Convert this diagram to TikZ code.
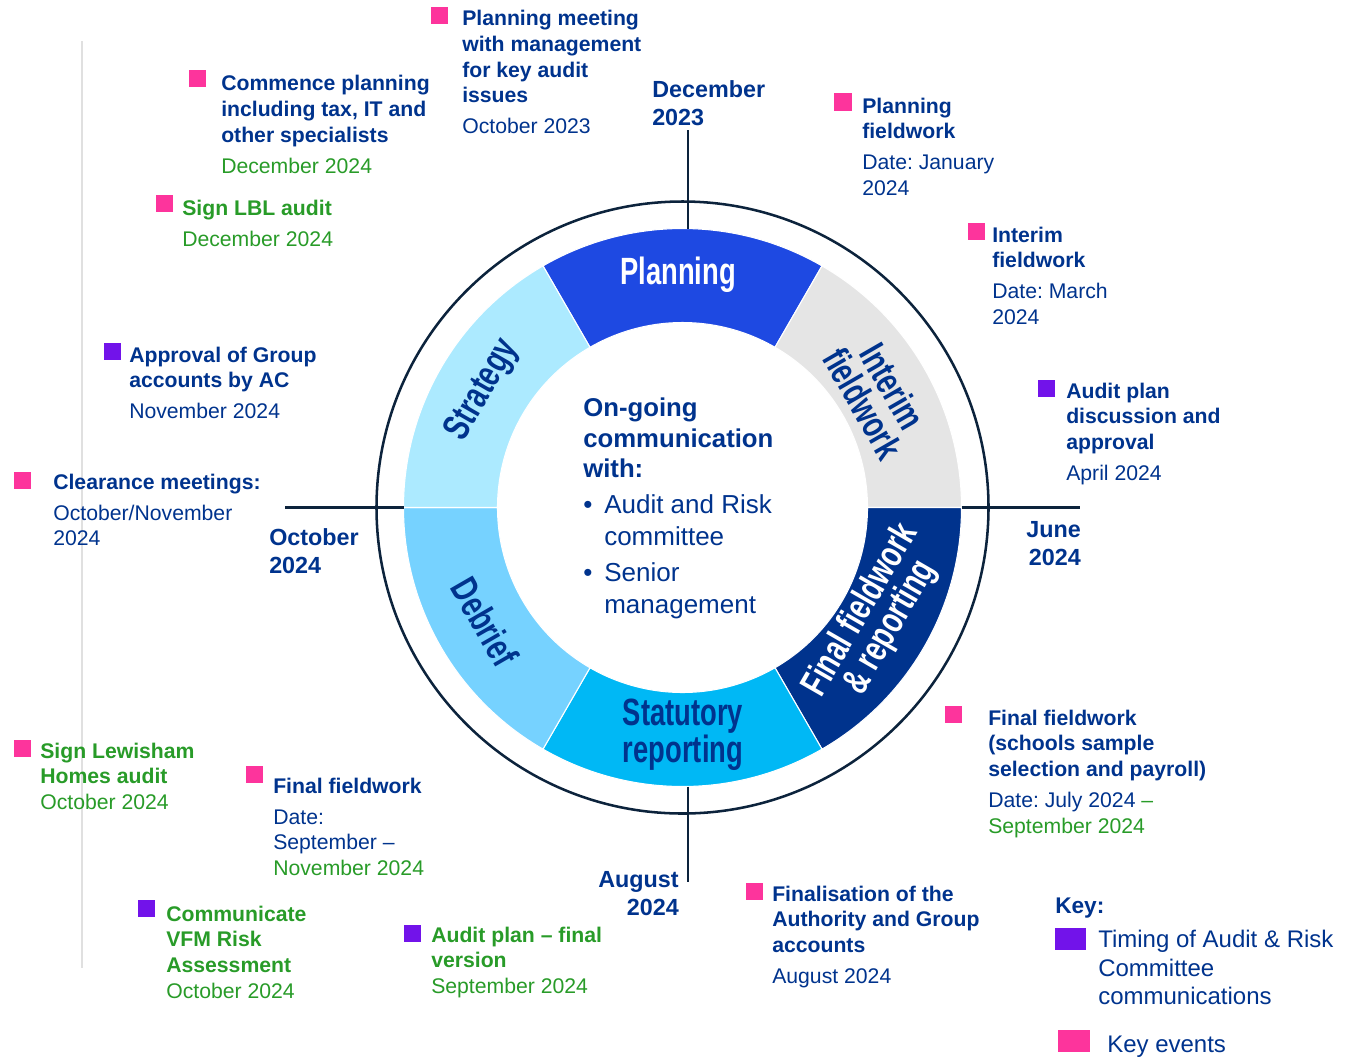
\documentclass[tikz,border=0pt]{standalone}
\usepackage{fontspec}
\setmainfont{Liberation Sans}
\newfontfamily\condf[FakeStretch=0.72]{Liberation Sans}
\frenchspacing
\definecolor{navy}{HTML}{00338D}
\definecolor{kgreen}{RGB}{40,155,40}
\definecolor{kpink}{HTML}{FD349C}
\definecolor{kpurple}{HTML}{7213EA}
\definecolor{ringline}{HTML}{0C233C}
\definecolor{cPlan}{HTML}{1E49E2}
\definecolor{cInt}{HTML}{E5E5E5}
\definecolor{cFin}{HTML}{00338D}
\definecolor{cStat}{HTML}{00B8F5}
\definecolor{cDeb}{HTML}{76D2FF}
\definecolor{cStr}{HTML}{ACEAFF}
\definecolor{greyline}{HTML}{E0E0E0}
\newcommand\myBld[1]{\textbf{#1}}
\newcommand\myGrn[1]{\textcolor{kgreen}{#1}}
\tikzset{
 sqp/.style={rectangle, fill=kpink, minimum width=13pt, minimum height=13pt, inner sep=0pt},
 sqv/.style={sqp, fill=kpurple},
 lbl/.style={anchor=north west, inner sep=0pt, align=left, text=navy, font=\fontsize{15.9}{19.3}\selectfont},
 axl/.style={inner sep=0pt, text=navy, font=\fontsize{17.5}{21}\selectfont\bfseries},
 seglbl/.style={inner sep=0pt, align=center, text=navy, font=\condf\bfseries\fontsize{28.5}{25.5}\selectfont},
 ringln/.style={draw=ringline, line width=1.9pt},
 segfill/.style={draw=white, line width=0.8pt},
}
\begin{document}
\begin{tikzpicture}[x=0.75pt,y=-0.75pt]
\useasboundingbox (0,0) rectangle (1350,1058);
% grey vertical rule
\coordinate (g1) at (82,41); \coordinate (g2) at (82,968);
\draw[greyline, line width=2.2pt] (g1) -- (g2);

% ring
\begin{scope}[shift={(682.5,507.5)}, yscale=-1]
 \coordinate (c) at (0,0);
 \draw[ringln] (c) circle[radius=306];
 \fill[cPlan, segfill] (60:279) arc[start angle=60,end angle=120,radius=279] -- (120:185) arc[start angle=120,end angle=60,radius=185] -- cycle;
 \fill[cInt, segfill] (0:279) arc[start angle=0,end angle=60,radius=279] -- (60:185) arc[start angle=60,end angle=0,radius=185] -- cycle;
 \fill[cFin, segfill] (-60:279) arc[start angle=-60,end angle=0,radius=279] -- (0:185) arc[start angle=0,end angle=-60,radius=185] -- cycle;
 \fill[cStat, segfill] (-120:279) arc[start angle=-120,end angle=-60,radius=279] -- (-60:185) arc[start angle=-60,end angle=-120,radius=185] -- cycle;
 \fill[cDeb, segfill] (180:279) arc[start angle=180,end angle=240,radius=279] -- (240:185) arc[start angle=240,end angle=180,radius=185] -- cycle;
 \fill[cStr, segfill] (120:279) arc[start angle=120,end angle=180,radius=279] -- (180:185) arc[start angle=180,end angle=120,radius=185] -- cycle;
\end{scope}

% axis lines
\coordinate (t1) at (688,130); \coordinate (t2) at (688,228.5);
\coordinate (b1) at (688,786.5); \coordinate (b2) at (688,882);
\coordinate (l1) at (285,507.5); \coordinate (l2) at (403.5,507.5);
\coordinate (r1) at (961.5,507.5); \coordinate (r2) at (1080,507.5);
\draw[ringln] (t1) -- (t2);
\draw[ringln] (b1) -- (b2);
\draw[ringln] (l1) -- (l2);
\draw[ringln] (r1) -- (r2);

% segment labels
\node[seglbl, text=white] (sPlan) at (678,275) {Planning};
\node[seglbl, rotate=-60] (sInt) at (878,395) {Interim\\fieldwork};
\node[seglbl, text=white, rotate=60] (sFin) at (876,619) {Final fieldwork\\\& reporting};
\node[seglbl] (sStat) at (683,735) {Statutory\\reporting};
\node[seglbl, rotate=-60] (sDeb) at (485,622) {Debrief};
\node[seglbl, rotate=60] (sStr) at (483,390) {Strategy};

% centre text
\node[lbl, font=\fontsize{19.3}{22.9}\selectfont\bfseries] (ctitle) at (583,398) {On-going\\communication\\with:};
\node[lbl, anchor=base west, font=\fontsize{19.5}{24}\selectfont] (bul1) at (583,513) {•};
\node[lbl, font=\fontsize{19.5}{24}\selectfont] (cb1) at (604,494.5) {Audit and Risk\\committee};
\node[lbl, anchor=base west, font=\fontsize{19.5}{24}\selectfont] (bul2) at (583,581) {•};
\node[lbl, font=\fontsize{19.5}{24}\selectfont] (cb2) at (604,562.5) {Senior\\management};

% axis labels
\node[axl, anchor=north west, align=left] (dec23) at (652,80.5) {December\\2023};
\node[axl, anchor=north east, align=right] (jun24) at (1081,521.5) {June\\2024};
\node[axl, anchor=north west, align=left] (oct24) at (269,528.5) {October\\2024};
\node[axl, anchor=north east, align=right] (aug24) at (679,871.5) {August\\2024};

% events
\node[sqp] (q1) at (439.5,15.5) {};
\node[lbl] (e1) at (462,10) {\myBld{Planning meeting}\\\myBld{with management}\\\myBld{for key audit}\\\myBld{issues}\\[4pt]October 2023};

\node[sqp] (q2) at (197.5,78.5) {};
\node[lbl] (e2) at (221,75) {\myBld{Commence planning}\\\myBld{including tax, IT and}\\\myBld{other specialists}\\[4pt]\myGrn{December 2024}};

\node[sqp] (q3) at (164.5,203.5) {};
\node[lbl, text=kgreen] (e3) at (182,199.5) {\myBld{Sign LBL audit}\\[4pt]December 2024};

\node[sqp] (q5) at (843,102) {};
\node[lbl] (e5) at (862,97.5) {\myBld{Planning}\\\myBld{fieldwork}\\[4pt]Date: January\\2024};

\node[sqp] (q6) at (976.5,231.5) {};
\node[lbl] (e6) at (992,226.5) {\myBld{Interim}\\\myBld{fieldwork}\\[4pt]Date: March\\2024};

\node[sqv] (q7) at (1046.5,388.5) {};
\node[lbl] (e7) at (1066,382.5) {\myBld{Audit plan}\\\myBld{discussion and}\\\myBld{approval}\\[4pt]April 2024};

\node[sqv] (q9) at (112.5,351.5) {};
\node[lbl] (e9) at (129,346.5) {\myBld{Approval of Group}\\\myBld{accounts by AC}\\[4pt]November 2024};

\node[sqp] (q10) at (22.5,480.5) {};
\node[lbl] (e10) at (53,473.5) {\myBld{Clearance meetings:}\\[4pt]October/November\\2024};

\node[sqp] (q12) at (22.5,748.5) {};
\node[lbl, text=kgreen] (e12) at (40,742.5) {\myBld{Sign Lewisham}\\\myBld{Homes audit}\\October 2024};

\node[sqp] (q13) at (254.5,774.5) {};
\node[lbl] (e13) at (273,777.5) {\myBld{Final fieldwork}\\[4pt]Date:\\September –\\\myGrn{November 2024}};

\node[sqv] (q14) at (146.5,908.5) {};
\node[lbl, text=kgreen] (e14) at (166,905.5) {\myBld{Communicate}\\\myBld{VFM Risk}\\\myBld{Assessment}\\October 2024};

\node[sqv] (q15) at (412.5,933.5) {};
\node[lbl, text=kgreen] (e15) at (431,926.5) {\myBld{Audit plan – final}\\\myBld{version}\\September 2024};

\node[sqp] (q17) at (754.5,891.5) {};
\node[lbl] (e17) at (772,885.5) {\myBld{Finalisation of the}\\\myBld{Authority and Group}\\\myBld{accounts}\\[4pt]August 2024};

\node[sqp] (q18) at (953.5,714.5) {};
\node[lbl] (e18) at (988,709.5) {\myBld{Final fieldwork}\\\myBld{(schools sample}\\\myBld{selection and payroll)}\\[4pt]Date: July 2024 \myGrn{–}\\\myGrn{September 2024}};

% key
\node[lbl, font=\fontsize{17}{21}\selectfont\bfseries] (keyt) at (1055,898) {Key:};
\node[sqv, minimum width=23.25pt, minimum height=16.5pt] (kq1) at (1070.5,939) {};
\node[lbl, font=\fontsize{18}{21.4}\selectfont] (kt1) at (1098,930) {Timing of Audit \& Risk\\Committee\\communications};
\node[sqp, minimum width=24pt, minimum height=16.5pt] (kq2) at (1074,1041) {};
\node[lbl, font=\fontsize{18}{21.4}\selectfont] (kt2) at (1107,1036) {Key events};
\end{tikzpicture}
\end{document}
